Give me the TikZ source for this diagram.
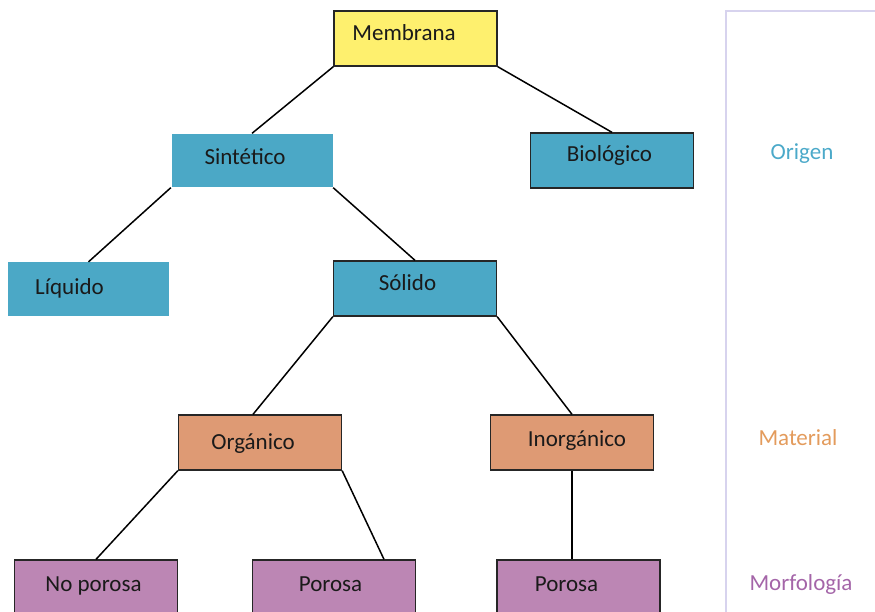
\documentclass[tikz,border=0pt]{standalone}
\usepackage{fontspec}
\setmainfont{Carlito}
\definecolor{cyel}{HTML}{FEF06E}
\definecolor{cblue}{HTML}{4BA8C6}
\definecolor{corg}{HTML}{DE9A74}
\definecolor{cpur}{HTML}{BC86B4}
\definecolor{tblue}{HTML}{4BA9C9}
\definecolor{torg}{HTML}{E39B5C}
\definecolor{tpur}{HTML}{A465A8}
\definecolor{lav}{HTML}{D7D3EE}
\definecolor{txt}{HTML}{1A1A1A}
\begin{document}
\begin{tikzpicture}[x=1pt,y=-1pt,
  font=\fontsize{23}{27}\selectfont,
  box/.style={rectangle, minimum width=163pt, minimum height=55pt, inner sep=0pt, draw=black!85, line width=1.3pt},
  nobox/.style={box, draw=none},
  lbl/.style={text=txt, inner sep=0pt, text height=15pt, text depth=0pt},
  side/.style={inner sep=0pt, text height=15pt, text depth=0pt},
  conn/.style={draw=black, line width=1.5pt}]
\useasboundingbox (0,0) rectangle (875,612);
% side frame
\draw[lav, line width=2pt] (726,612) -- (726,11) -- (875,11);
% boxes
\node[box, fill=cyel] (mem) at (415.5,38.5) {};
\node[lbl] (memt) at ([xshift=-11.5pt, yshift=5pt]mem.center) {Membrana};
\node[nobox, fill=cblue, minimum width=161pt, minimum height=53pt] (sin) at (252,160.5) {};
\node[lbl] (sint) at ([xshift=-7pt, yshift=3pt]sin.center) {Sintético};
\node[box, fill=cblue] (bio) at (612,160.5) {};
\node[lbl] (biot) at ([xshift=-2.5pt, yshift=6pt]bio.center) {Biológico};
\node[nobox, fill=cblue, minimum width=161pt, minimum height=53pt] (liq) at (88.5,289) {};
\node[lbl] (liqt) at ([xshift=-19pt, yshift=2pt]liq.center) {Líquido};
\node[box, fill=cblue] (sol) at (415,288.5) {};
\node[lbl] (solt) at ([xshift=-7.5pt, yshift=5.5pt]sol.center) {Sólido};
\node[box, fill=corg] (org) at (260,442.5) {};
\node[lbl] (orgt) at ([xshift=-7pt, yshift=0.5pt]org.center) {Orgánico};
\node[box, fill=corg] (ino) at (572,442.5) {};
\node[lbl] (inot) at ([xshift=5pt, yshift=3.5pt]ino.center) {Inorgánico};
\node[box, fill=cpur] (nop) at (96,587.5) {};
\node[lbl] (nopt) at ([xshift=-2.5pt, yshift=3.5pt]nop.center) {No porosa};
\node[box, fill=cpur] (po1) at (334,587.5) {};
\node[lbl] (po1t) at ([xshift=-3.5pt, yshift=3.5pt]po1.center) {Porosa};
\node[box, fill=cpur] (po2) at (578.5,587.5) {};
\node[lbl] (po2t) at ([xshift=-12pt, yshift=3.5pt]po2.center) {Porosa};
% side labels
\node[side, text=tblue] (ori) at (802,152) {Origen};
\node[side, text=torg] (mat) at (798,438) {Material};
\node[side, text=tpur] (mor) at (801,583) {Morfología};
% connectors
\draw[conn] (mem.south west) -- (sin.north);
\draw[conn] (mem.south east) -- (bio.north);
\draw[conn] (sin.south west) -- (liq.north);
\draw[conn] (sin.south east) -- (sol.north);
\draw[conn] (sol.south west) -- ([xshift=-7pt]org.north);
\draw[conn] (sol.south east) -- (ino.north);
\draw[conn] (org.south west) -- (nop.north);
\draw[conn] (org.south east) -- ([xshift=50pt]po1.north);
\draw[conn] (ino.south) -- (ino.south |- po2.north);
\end{tikzpicture}
\end{document}
